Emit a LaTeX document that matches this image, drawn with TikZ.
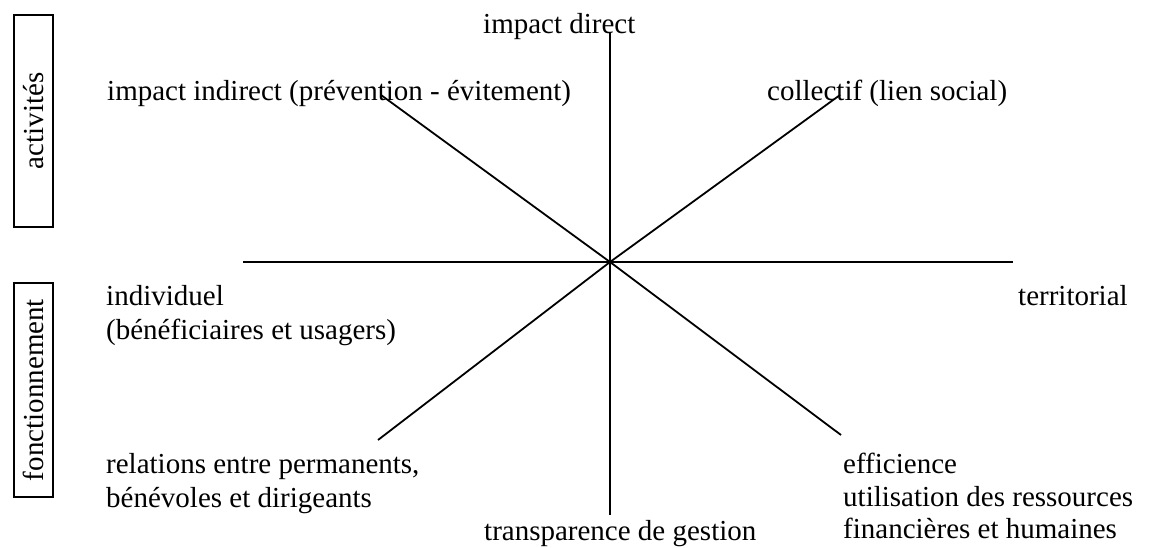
\documentclass[tikz,border=0pt]{standalone}
\usepackage{fontspec}
\setmainfont{Liberation Serif}
\begin{document}
\begin{tikzpicture}[x=1pt,y=1pt,
  lbl/.style={anchor=base west,inner sep=0pt,font=\fontsize{29}{33}\selectfont},
  sidebox/.style={draw,line width=1.5pt,rotate=90,inner sep=0pt,minimum height=39pt,font=\fontsize{29}{33}\selectfont},
  axis/.style={line width=1.8pt}]
\useasboundingbox (0,0) rectangle (1162,547);
% side boxes
\node[sidebox,minimum width=212pt] (act) at (33.5,426) {activités};
\node[sidebox,minimum width=214pt] (fonc) at (33.5,157) {fonctionnement};
% axes
\coordinate (C) at (610,285);
\coordinate (top) at (610,514);
\coordinate (bot) at (610,32);
\coordinate (lft) at (243,285);
\coordinate (rgt) at (1013,285);
\coordinate (ul) at (381,452);
\coordinate (lr) at (841,112);
\coordinate (ur) at (840,452);
\coordinate (ll) at (378,107);
\draw[axis] (top) -- (bot);
\draw[axis] (lft) -- (rgt);
\draw[axis] (ul) -- (C) -- (lr);
\draw[axis] (ur) -- (C) -- (ll);
% labels
\node[lbl] (idir) at (483,513) {impact direct};
\node[lbl] (iind) at (107,446) {impact indirect (prévention - évitement)};
\node[lbl] (coll) at (767,446) {collectif (lien social)};
\node[lbl] (indA) at (106,241) {individuel};
\node[lbl] (indB) at (106,208) {(bénéficiaires et usagers)};
\node[lbl] (terr) at (1018,242) {territorial};
\node[lbl] (relA) at (106,74) {relations entre permanents,};
\node[lbl] (relB) at (106,40) {bénévoles et dirigeants};
\node[lbl] (trans) at (484,7) {transparence de gestion};
\node[lbl] (effA) at (843,74) {efficience};
\node[lbl] (effB) at (843,41) {utilisation des ressources};
\node[lbl] (effC) at (843,9) {financières et humaines};
\end{tikzpicture}
\end{document}
